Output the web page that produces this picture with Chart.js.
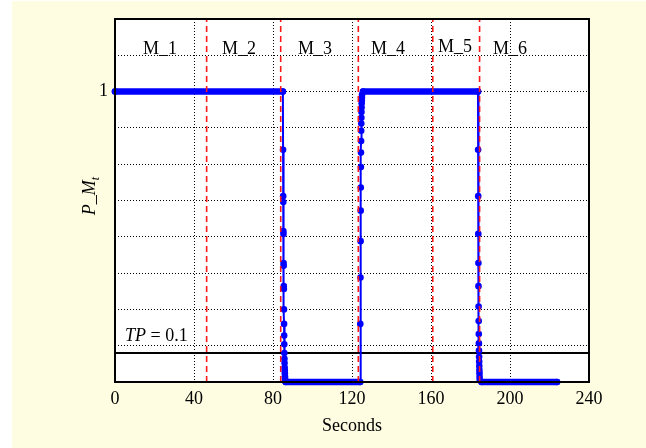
<!DOCTYPE html>
<html>
<head>
<meta charset="utf-8">
<script src="https://cdn.jsdelivr.net/npm/chart.js@4"></script>
<style>
  html, body { margin: 0; padding: 0; background: #ffffff; }
  canvas { display: block; }
</style>
</head>
<body>
<canvas id="chart" width="646" height="448"></canvas>
<script>
// time (s) and probability of the current mode
const seconds = [
    0, 85.0,
    85.1, 85.15, 85.2, 85.25, 85.3, 85.35, 85.4, 85.45, 85.5, 85.55, 85.6, 85.65,
    85.7, 85.75, 85.8, 85.85, 85.9, 85.95, 86.0, 86.05, 86.1, 86.15, 86.4,
    124.1,
    124.2, 124.3, 124.35, 124.4, 124.45, 124.5, 124.55, 124.6, 124.65, 124.7,
    124.75, 124.8, 124.85, 124.9, 124.95, 125.0, 125.1, 125.6,
    183.8,
    183.85, 183.9, 183.95, 184.0, 184.05, 184.1, 184.15, 184.2, 184.25, 184.3,
    184.35, 184.4, 184.45, 184.5, 184.55, 184.6, 184.65, 185.6,
    223.8
];
const pM = [
    1, 1,
    0.80, 0.64, 0.62, 0.52, 0.51, 0.41, 0.40, 0.33, 0.32, 0.25, 0.20, 0.16,
    0.13, 0.10, 0.08, 0.065, 0.05, 0.04, 0.03, 0.02, 0.012, 0.006, 0,
    0,
    0.20, 0.36, 0.485, 0.59, 0.67, 0.74, 0.79, 0.83, 0.865, 0.89,
    0.91, 0.93, 0.945, 0.96, 0.97, 0.98, 0.99, 1,
    1,
    0.80, 0.64, 0.51, 0.41, 0.33, 0.26, 0.21, 0.165, 0.133, 0.108,
    0.087, 0.07, 0.055, 0.041, 0.03, 0.018, 0.008, 0,
    0
];

// mode switch instants (red dashed) and mode labels
const switchTimes = [46.4, 83.9, 123.2, 160.9, 184.6];
const modeNames = ['M_1', 'M_2', 'M_3', 'M_4', 'M_5', 'M_6'];
const modeLabelAt = [22.8, 62.8, 101.3, 138.2, 172.2, 200.0];
const modeLabelLevel = [1.13, 1.13, 1.13, 1.13, 1.137, 1.13];

const threshold = 0.1;
const xTicks = [0, 40, 80, 120, 160, 200, 240];

const serif = '"Liberation Serif", "Times New Roman", serif';

const datasets = [];
switchTimes.forEach(t => {
    datasets.push({
        data: [{ x: t, y: 0 }, { x: t, y: 1.25 }],
        borderColor: '#ff1a1a',
        borderWidth: 1.6,
        borderDash: [6, 4],
        pointRadius: 0,
        order: 0
    });
});
datasets.push({
    data: seconds.map((t, i) => ({ x: t, y: pM[i] })),
    borderColor: '#0000ff',
    backgroundColor: '#0000ff',
    borderWidth: 2,
    pointRadius: 3.3,
    pointBorderWidth: 0,
    pointBackgroundColor: '#0000ff',
    clip: false,
    order: 1,
    segment: {
        borderWidth: ctx => ctx.p0.parsed.y === ctx.p1.parsed.y ? 6.5 : 2,
        borderCapStyle: ctx => ctx.p0.parsed.y === ctx.p1.parsed.y ? 'round' : 'butt'
    }
});
datasets.push({
    data: [{ x: 0, y: threshold }, { x: 240, y: threshold }],
    borderColor: '#000000',
    borderWidth: 2,
    pointRadius: 0,
    order: 2
});

const decor = {
    id: 'decor',
    beforeDraw(chart) {
        const c = chart.ctx, a = chart.chartArea;
        c.save();
        c.fillStyle = '#fefde2';
        c.fillRect(12, 1, chart.width - 12, chart.height - 1);
        c.fillStyle = '#ffffff';
        c.fillRect(a.left, a.top, a.right - a.left, a.bottom - a.top);
        c.restore();
    },
    afterDraw(chart) {
        const c = chart.ctx, a = chart.chartArea;
        const xs = chart.scales.x, ys = chart.scales.y;
        c.save();
        c.strokeStyle = '#000';
        c.lineWidth = 2;
        c.strokeRect(a.left, a.top, a.right - a.left, a.bottom - a.top);

        c.fillStyle = '#000';
        c.font = '18px ' + serif;
        c.textAlign = 'center';
        c.textBaseline = 'alphabetic';
        modeNames.forEach((m, i) => {
            c.fillText(m, xs.getPixelForValue(modeLabelAt[i]), ys.getPixelForValue(modeLabelLevel[i]));
        });

        // TP = 0.1
        c.textAlign = 'left';
        let x = a.left + 10;
        const yb = 341;
        c.font = 'italic 18px ' + serif;
        c.fillText('TP', x, yb);
        x += c.measureText('TP').width;
        c.font = '18px ' + serif;
        c.fillText(' = 0.1', x, yb);

        // x title
        c.textAlign = 'center';
        c.fillText('Seconds', (a.left + a.right) / 2, 431);

        // y title P_M with subscript t
        c.translate(95, 196);
        c.rotate(-Math.PI / 2);
        c.font = 'italic 18px ' + serif;
        const w1 = c.measureText('P_M').width;
        c.font = 'italic 12px ' + serif;
        const w2 = c.measureText('t').width;
        c.textAlign = 'left';
        c.font = 'italic 18px ' + serif;
        c.fillText('P_M', -(w1 + w2) / 2, 0);
        c.font = 'italic 12px ' + serif;
        c.fillText('t', -(w1 + w2) / 2 + w1, 4);
        c.restore();
    }
};

new Chart(document.getElementById('chart').getContext('2d'), {
    type: 'line',
    data: { datasets: datasets },
    options: {
        responsive: false,
        animation: false,
        layout: { padding: { top: 19, right: 57, left: 0, bottom: 0 } },
        plugins: {
            legend: { display: false },
            tooltip: { enabled: false }
        },
        scales: {
            x: {
                type: 'linear',
                min: 0,
                max: 240,
                afterBuildTicks: s => { s.ticks = xTicks.map(v => ({ value: v })); },
                afterFit: s => { s.height = 66; },
                ticks: {
                    color: '#000',
                    font: { family: serif, size: 18 },
                    padding: 6,
                    maxRotation: 0
                },
                grid: { color: '#000', lineWidth: 1, drawTicks: false },
                border: { display: false, dash: [1, 2] }
            },
            y: {
                type: 'linear',
                min: 0,
                max: 1.25,
                ticks: {
                    stepSize: 0.125,
                    color: '#000',
                    font: { family: serif, size: 18 },
                    padding: 7,
                    callback: v => Math.abs(v - 1) < 1e-9 ? '1' : ''
                },
                afterFit: s => { s.width = 115; },
                grid: { color: '#000', lineWidth: 1, drawTicks: false },
                border: { display: false, dash: [1, 2] }
            }
        }
    },
    plugins: [decor]
});
</script>
</body>
</html>
